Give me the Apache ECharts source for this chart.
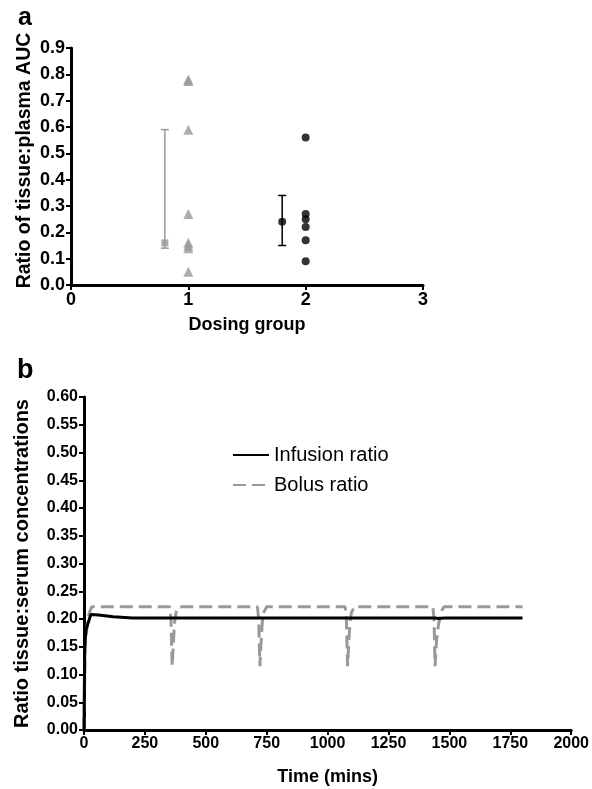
<!DOCTYPE html>
<html>
<head>
<meta charset="utf-8">
<script src="https://cdn.jsdelivr.net/npm/echarts@6/dist/echarts.min.js"></script>
<style>
html,body{margin:0;padding:0;background:#fff;}
#c{width:592px;height:789px;}
</style>
</head>
<body>
<div id="c"></div>
<script>
// Panel a data
var group1Points = [0.78, 0.775, 0.59, 0.27, 0.16, 0.15, 0.14, 0.05];
var group2Points = [0.56, 0.27, 0.25, 0.22, 0.17, 0.09];
var summaryX = [0.8, 1.8];
var summaryMid = [0.16, 0.24];
var summaryLow = [0.14, 0.15];
var summaryHigh = [0.59, 0.34];

// Panel b data
var infusionTime = [0, 3, 8, 15, 28, 60, 120, 200, 1440, 1447, 1455, 1480, 1800];
var infusionRatio = [0, 0.15, 0.18, 0.19, 0.208, 0.207, 0.204, 0.202, 0.202, 0.199, 0.201, 0.202, 0.202];
var bolusTime = [0, 5, 15, 25, 32,
  352, 357, 362, 366, 372, 378, 390,
  712, 717, 722, 726, 732, 738, 750,
  1072, 1077, 1082, 1086, 1092, 1098, 1110,
  1432, 1437, 1441, 1447, 1455, 1468, 1478,
  1800];
var bolusRatio = [0, 0.15, 0.20, 0.215, 0.222,
  0.222, 0.20, 0.115, 0.15, 0.195, 0.212, 0.222,
  0.222, 0.20, 0.115, 0.15, 0.195, 0.212, 0.222,
  0.222, 0.20, 0.115, 0.15, 0.195, 0.212, 0.222,
  0.222, 0.20, 0.115, 0.16, 0.19, 0.215, 0.222,
  0.222];

var FONT = 'Liberation Sans, Arial, Helvetica, sans-serif';
var GRAY = '#999999';

function zip(a, b) { return a.map(function (v, i) { return [v, b[i]]; }); }

var chart = echarts.init(document.getElementById('c'), null, {renderer: 'canvas'});

function ax(extra, labelSize, nameSize) {
  var base = {
    nameMoveOverlap: false,
    axisLine: {show: true, onZero: false, lineStyle: {color: '#000', width: 3}},
    axisTick: {show: true, inside: false, length: 5, lineStyle: {color: '#000', width: 2}},
    splitLine: {show: false},
    axisLabel: {color: '#000', fontWeight: 'bold', fontSize: labelSize, fontFamily: FONT, margin: 6},
    nameTextStyle: {color: '#000', fontWeight: 'bold', fontSize: nameSize, fontFamily: FONT}
  };
  return Object.assign(base, extra);
}

var xA = ax({gridIndex: 0, type: 'value', min: 0, max: 3, interval: 1,
  name: 'Dosing group', nameLocation: 'middle', nameGap: 31}, 18, 18);
xA.axisLabel.formatter = function (v) { return String(v); };
var yA = ax({gridIndex: 0, type: 'value', min: 0, max: 0.9, interval: 0.1,
  name: 'Ratio of tissue:plasma AUC', nameLocation: 'middle', nameGap: 36}, 18, 19.5);
yA.axisLabel.formatter = function (v) { return v.toFixed(1); };
yA.nameTextStyle.padding = [0, 0, 0, 12];

var xB = ax({gridIndex: 1, type: 'value', min: 0, max: 2000, interval: 250,
  name: 'Time (mins)', nameLocation: 'middle', nameGap: 38}, 16, 18);
xB.axisLabel.formatter = function (v) { return String(v); };
var yB = ax({gridIndex: 1, type: 'value', min: 0, max: 0.6, interval: 0.05,
  name: 'Ratio tissue:serum concentrations', nameLocation: 'middle', nameGap: 52}, 16, 20);
yB.axisLabel.formatter = function (v) { return v.toFixed(2); };

var errData = summaryX.map(function (x, i) { return [x, summaryLow[i], summaryHigh[i], i]; });

var option = {
  animation: false,
  backgroundColor: '#fff',
  textStyle: {fontFamily: FONT},
  title: [
    {text: 'a', left: 13, top: 1, textStyle: {fontSize: 25, fontWeight: 'bold', color: '#000', fontFamily: FONT}},
    {text: 'b', left: 12, top: 352, textStyle: {fontSize: 27, fontWeight: 'bold', color: '#000', fontFamily: FONT}}
  ],
  legend: {
    data: ['Infusion ratio', 'Bolus ratio'],
    orient: 'vertical',
    left: 232, top: 445, padding: 0,
    itemWidth: 36, itemHeight: 14, itemGap: 10,
    itemStyle: {color: 'rgba(0,0,0,0)', borderColor: 'rgba(0,0,0,0)', borderWidth: 0},
    textStyle: {fontSize: 20, color: '#000', fontFamily: FONT, lineHeight: 20}
  },
  grid: [
    {left: 71, top: 48, width: 352, height: 237, containLabel: false},
    {left: 84, top: 397, width: 488, height: 333, containLabel: false}
  ],
  xAxis: [xA, xB],
  yAxis: [yA, yB],
  series: [
    {
      type: 'custom', xAxisIndex: 0, yAxisIndex: 0, data: errData,
      renderItem: function (params, api) {
        var x = api.value(0), lo = api.value(1), hi = api.value(2), idx = api.value(3);
        var p1 = api.coord([x, lo]), p2 = api.coord([x, hi]);
        var col = idx === 0 ? GRAY : '#000';
        var w = 4;
        var st = {stroke: col, lineWidth: 1.5};
        return {type: 'group', children: [
          {type: 'line', shape: {x1: p1[0], y1: p1[1], x2: p2[0], y2: p2[1]}, style: st},
          {type: 'line', shape: {x1: p1[0] - w, y1: p1[1], x2: p1[0] + w, y2: p1[1]}, style: st},
          {type: 'line', shape: {x1: p2[0] - w, y1: p2[1], x2: p2[0] + w, y2: p2[1]}, style: st}
        ]};
      },
      z: 2
    },
    {
      type: 'scatter', xAxisIndex: 0, yAxisIndex: 0,
      data: [[summaryX[0], summaryMid[0]]],
      symbol: 'rect', symbolSize: 7, itemStyle: {color: GRAY}, z: 3
    },
    {
      type: 'scatter', xAxisIndex: 0, yAxisIndex: 0,
      data: [[summaryX[1], summaryMid[1]]],
      symbol: 'circle', symbolSize: 8, itemStyle: {color: '#000'}, z: 3
    },
    {
      type: 'scatter', xAxisIndex: 0, yAxisIndex: 0,
      data: group1Points.map(function (v) { return [1, v]; }),
      symbol: 'triangle', symbolSize: 10, itemStyle: {color: GRAY}
    },
    {
      type: 'scatter', xAxisIndex: 0, yAxisIndex: 0,
      data: group2Points.map(function (v) { return [2, v]; }),
      symbol: 'circle', symbolSize: 8, itemStyle: {color: '#000'}
    },
    {
      name: 'Infusion ratio', type: 'line', xAxisIndex: 1, yAxisIndex: 1,
      data: zip(infusionTime, infusionRatio), showSymbol: false, symbol: 'none',
      lineStyle: {color: '#000', width: 3}, itemStyle: {color: '#000'}, z: 3
    },
    {
      name: 'Bolus ratio', type: 'line', xAxisIndex: 1, yAxisIndex: 1,
      data: zip(bolusTime, bolusRatio), showSymbol: false, symbol: 'none',
      lineStyle: {color: GRAY, width: 3, type: [13, 6]}, itemStyle: {color: GRAY}, z: 2
    }
  ]
};
chart.setOption(option);
</script>
</body>
</html>
